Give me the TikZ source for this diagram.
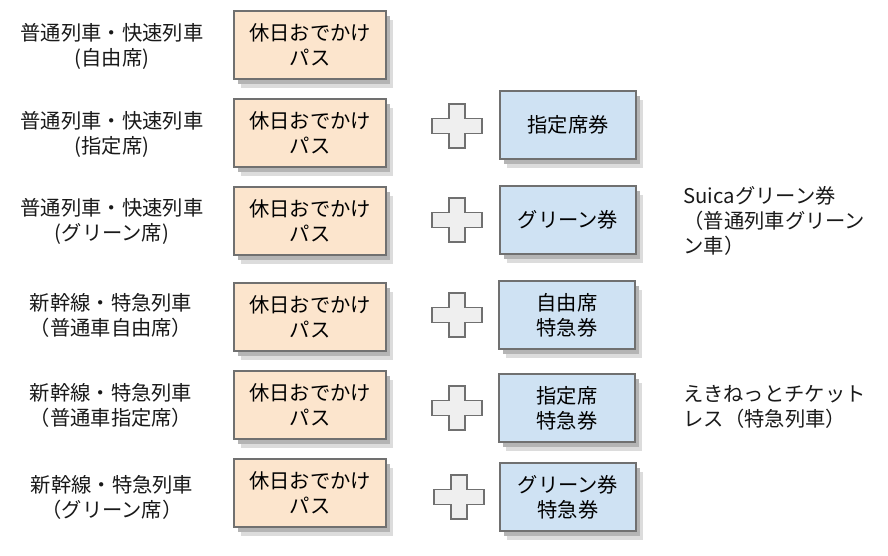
\documentclass[tikz,border=0pt]{standalone}
\usepackage{fontspec}
\setmainfont{Noto Sans CJK JP}
\definecolor{passfill}{HTML}{FCE5CD}
\definecolor{ticketfill}{HTML}{CFE2F3}
\definecolor{boxline}{HTML}{707070}
\definecolor{plusfill}{HTML}{EFEFEF}
\definecolor{shadowfill}{HTML}{B4B4B4}
\definecolor{shadowlight}{HTML}{DCDCDC}
\tikzset{
  plussign/.pic={
    \draw[boxline,line width=1.3pt,fill=plusfill]
      (-8,-22) -- (8,-22) -- (8,-7.5) -- (25,-7.5) -- (25,7.5) -- (8,7.5)
      -- (8,22) -- (-8,22) -- (-8,7.5) -- (-25,7.5) -- (-25,-7.5) -- (-8,-7.5) -- cycle;
  }
}
\begin{document}
\begin{tikzpicture}[x=1pt,y=-1pt,font=\fontsize{20.3}{25}\selectfont]
      \useasboundingbox (0,0) rectangle (888,556);
      % shadows, outer soft part
      \begin{scope}[every node/.style={fill=shadowlight,inner sep=0pt,outer sep=0pt,
          minimum height=68pt}]
        \node[minimum width=152pt] (sa1) at (317,54) {};
        \node[minimum width=152pt] (sa2) at (317,142) {};
        \node[minimum width=152pt] (sa3) at (317,230) {};
        \node[minimum width=152pt] (sa4) at (317,326) {};
        \node[minimum width=152pt] (sa5) at (317,414) {};
        \node[minimum width=152pt] (sa6) at (317,502) {};
        \node[minimum width=136pt] (sb2) at (575,134) {};
        \node[minimum width=136pt] (sb3) at (575,229) {};
        \node[minimum width=136pt] (sb4) at (574,324) {};
        \node[minimum width=136pt] (sb5) at (574,417) {};
        \node[minimum width=136pt] (sb6) at (575,506) {};
      \end{scope}
      % shadows, inner dark part
      \begin{scope}[every node/.style={fill=shadowfill,inner sep=0pt,outer sep=0pt,
          minimum height=68pt}]
        \node[minimum width=152pt] (sc1) at (314,50) {};
        \node[minimum width=152pt] (sc2) at (314,138) {};
        \node[minimum width=152pt] (sc3) at (314,226) {};
        \node[minimum width=152pt] (sc4) at (314,322) {};
        \node[minimum width=152pt] (sc5) at (314,410) {};
        \node[minimum width=152pt] (sc6) at (314,498) {};
        \node[minimum width=136pt] (sd2) at (572,130) {};
        \node[minimum width=136pt] (sd3) at (572,225) {};
        \node[minimum width=136pt] (sd4) at (571,320) {};
        \node[minimum width=136pt] (sd5) at (571,413) {};
        \node[minimum width=136pt] (sd6) at (572,502) {};
      \end{scope}
      % left column labels
      \begin{scope}[every node/.style={align=center,text=black!90}]
        \node (l1) at (112,46) {普通列車・快速列車\\(自由席)};
        \node (l2) at (112,134) {普通列車・快速列車\\(指定席)};
        \node (l3) at (112,221) {普通列車・快速列車\\(グリーン席)};
        \node (l4) at (111,315) {新幹線・特急列車\\（普通車自由席）};
        \node (l5) at (111,405) {新幹線・特急列車\\（普通車指定席）};
        \node (l6) at (112,497) {新幹線・特急列車\\（グリーン席）};
      \end{scope}
      % passes
      \begin{scope}[every node/.style={draw=boxline,line width=1.3pt,fill=passfill,
          minimum width=152pt,minimum height=68pt,align=center}]
        \node (p1) at (310,45) {休日おでかけ\\パス};
        \node (p2) at (310,133) {休日おでかけ\\パス};
        \node (p3) at (310,221) {休日おでかけ\\パス};
        \node (p4) at (310,317) {休日おでかけ\\パス};
        \node (p5) at (310,405) {休日おでかけ\\パス};
        \node (p6) at (310,493) {休日おでかけ\\パス};
      \end{scope}
      % plus signs
      \pic at (457,126) {plussign};
      \pic at (457,220) {plussign};
      \pic at (457,315) {plussign};
      \pic at (457,408) {plussign};
      \pic at (459,497) {plussign};
      % tickets
      \begin{scope}[every node/.style={draw=boxline,line width=1.3pt,fill=ticketfill,
          minimum width=136pt,minimum height=68pt,align=center}]
        \node (t2) at (568,125) {指定席券};
        \node (t3) at (568,220) {グリーン券};
        \node (t4) at (567,315) {自由席\\特急券};
        \node (t5) at (567,408) {指定席\\特急券};
        \node (t6) at (568,497) {グリーン券\\特急券};
      \end{scope}
      % right notes
      \begin{scope}[every node/.style={align=left,anchor=west,text=black!90}]
        \node (n3) at (680,221) {Suicaグリーン券\\（普通列車グリーン\\ン車）};
        \node (n5) at (680,407) {えきねっとチケット\\レス（特急列車）};
      \end{scope}
    \end{tikzpicture}
\end{document}
